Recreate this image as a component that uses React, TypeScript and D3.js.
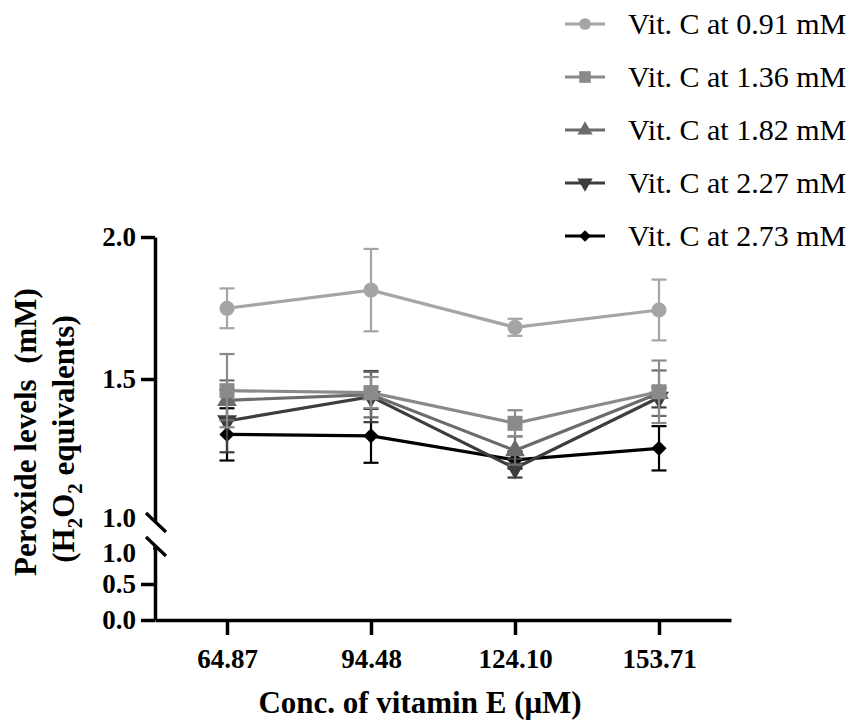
import React, { useEffect, useRef } from "react";
import * as d3 from "d3";

// x categories (vitamin E, µM)
const categories = ["64.87", "94.48", "124.10", "153.71"];

const seriesNames = [
  "Vit. C at 0.91 mM",
  "Vit. C at 1.36 mM",
  "Vit. C at 1.82 mM",
  "Vit. C at 2.27 mM",
  "Vit. C at 2.73 mM",
];

// mean peroxide levels (mM)
const vitC091 = [1.749, 1.813, 1.682, 1.743];
const vitC136 = [1.459, 1.452, 1.344, 1.455];
const vitC182 = [1.425, 1.445, 1.248, 1.45];
const vitC227 = [1.352, 1.438, 1.186, 1.435];
const vitC273 = [1.305, 1.3, 1.215, 1.256];

// error bars (+/-)
const vitC091Err = [0.07, 0.145, 0.03, 0.107];
const vitC136Err = [0.129, 0.055, 0.046, 0.11];
const vitC182Err = [0.07, 0.08, 0.05, 0.08];
const vitC227Err = [0.11, 0.09, 0.033, 0.035];
const vitC273Err = [0.092, 0.095, 0.03, 0.078];

const seriesColors = ["#a5a5a8", "#8a8a8a", "#6b6b6b", "#3d3d3d", "#000000"];

const upperTicks = [1, 1.5, 2];
const lowerTicks = [0, 0.5, 1];

const font = "'Liberation Serif', 'Times New Roman', serif";

const App = () => {
  const svgRef = useRef<SVGSVGElement>(null);

  useEffect(() => {
    const svg = d3.select(svgRef.current);
    svg.selectAll("*").remove();

    const means = [vitC091, vitC136, vitC182, vitC227, vitC273];
    const errs = [vitC091Err, vitC136Err, vitC182Err, vitC227Err, vitC273Err];

    const x = d3.scalePoint<string>().domain(categories).range([155, 731]).padding(0.5);
    const yTop = d3.scaleLinear().domain([1, 2]).range([521, 237]);
    const yBottom = d3.scaleLinear().domain([0, 1]).range([620, 548]);

    // marker shapes: circle, square, triangle, down triangle, diamond
    const markerPath = (i: number, scale: number) => {
      const types = [d3.symbolCircle, d3.symbolSquare, d3.symbolTriangle, d3.symbolTriangle, d3.symbolSquare];
      const sizes = [180, 225, 170, 170, 115];
      return d3.symbol().type(types[i]).size(sizes[i] * scale)() as string;
    };
    const markerRotate = (i: number) => (i === 3 ? 180 : i === 4 ? 45 : 0);

    const styleAxis = (g: any) => {
      g.select(".domain").attr("stroke", "#000").attr("stroke-width", 3.5);
      g.selectAll(".tick line").attr("stroke", "#000").attr("stroke-width", 3.5);
      g.selectAll(".tick text")
        .attr("fill", "#000")
        .attr("font-family", font)
        .attr("font-weight", "bold")
        .attr("font-size", 27);
    };

    // y axis, upper segment
    const gTop = svg
      .append("g")
      .attr("transform", "translate(155,0)")
      .call(
        d3.axisLeft(yTop).tickValues(upperTicks).tickSize(14).tickSizeOuter(0).tickPadding(5).tickFormat(d3.format(".1f"))
      );
    styleAxis(gTop);
    gTop.selectAll(".tick").filter((d: any) => d === 1).select("line").remove();
    gTop.selectAll(".tick").filter((d: any) => d === 1).select("text").attr("dy", "0.22em");

    // y axis, lower segment
    const gBottom = svg
      .append("g")
      .attr("transform", "translate(155,0)")
      .call(
        d3.axisLeft(yBottom).tickValues(lowerTicks).tickSize(14).tickSizeOuter(0).tickPadding(5).tickFormat(d3.format(".1f"))
      );
    styleAxis(gBottom);
    gBottom.selectAll(".tick").filter((d: any) => d === 1).select("line").remove();
    gBottom.selectAll(".tick").filter((d: any) => d === 1).select("text").attr("dy", "0.5em");
    svg
      .append("line")
      .attr("x1", 155)
      .attr("x2", 155)
      .attr("y1", yBottom(1) - 2)
      .attr("y2", yBottom(1) + 2)
      .attr("stroke", "#000")
      .attr("stroke-width", 3.5);

    // axis break marks
    [yTop(1) + 1.5, yBottom(1) - 1.5].forEach((cy) => {
      svg
        .append("line")
        .attr("x1", 146)
        .attr("y1", cy - 9.5)
        .attr("x2", 166)
        .attr("y2", cy + 9.5)
        .attr("stroke", "#000")
        .attr("stroke-width", 3.2);
    });

    // x axis
    const gx = svg
      .append("g")
      .attr("transform", `translate(0,${yBottom(0)})`)
      .call(d3.axisBottom(x).tickSize(15).tickSizeOuter(0).tickPadding(14));
    styleAxis(gx);

    // series, drawn from darkest so lighter ones sit on top
    for (let i = means.length - 1; i >= 0; i--) {
      const color = seriesColors[i];
      const pts = categories.map((c, j) => ({ c, v: means[i][j], e: errs[i][j] }));
      const g = svg.append("g");

      const line = d3
        .line<any>()
        .x((d) => x(d.c) as number)
        .y((d) => yTop(d.v));
      g.append("path")
        .attr("d", line(pts))
        .attr("fill", "none")
        .attr("stroke", color)
        .attr("stroke-width", 3.2);

      pts.forEach((d) => {
        const px = x(d.c) as number;
        const y1 = yTop(d.v + d.e);
        const y2 = yTop(d.v - d.e);
        g.append("line").attr("x1", px).attr("x2", px).attr("y1", y1).attr("y2", y2)
          .attr("stroke", color).attr("stroke-width", 2.2);
        [y1, y2].forEach((yy) => {
          g.append("line").attr("x1", px - 7.5).attr("x2", px + 7.5).attr("y1", yy).attr("y2", yy)
            .attr("stroke", color).attr("stroke-width", 2.2);
        });
        g.append("path")
          .attr("d", markerPath(i, 1))
          .attr("transform", `translate(${px},${yTop(d.v)}) rotate(${markerRotate(i)})`)
          .attr("fill", color);
      });
    }

    // legend
    seriesNames.forEach((name, i) => {
      const ly = 24 + i * 53;
      const g = svg.append("g").attr("transform", `translate(0,${ly})`);
      g.append("line").attr("x1", 565).attr("x2", 605).attr("y1", 0).attr("y2", 0)
        .attr("stroke", seriesColors[i]).attr("stroke-width", 3.2);
      g.append("path")
        .attr("d", markerPath(i, 0.6))
        .attr("transform", `translate(585,0) rotate(${markerRotate(i)})`)
        .attr("fill", seriesColors[i]);
      g.append("text")
        .attr("x", 628)
        .attr("y", 10)
        .attr("font-family", font)
        .attr("font-size", 30)
        .attr("fill", "#000")
        .text(name);
    });

    // axis titles
    svg
      .append("text")
      .attr("x", 420)
      .attr("y", 713)
      .attr("text-anchor", "middle")
      .attr("font-family", font)
      .attr("font-weight", "bold")
      .attr("font-size", 31)
      .text("Conc. of vitamin E (\u03bcM)");

    svg
      .append("text")
      .attr("transform", "translate(36,432) rotate(-90)")
      .attr("text-anchor", "middle")
      .attr("font-family", font)
      .attr("font-weight", "bold")
      .attr("font-size", 31)
      .style("white-space", "pre")
      .text("Peroxide levels  (mM)");

    const t2 = svg
      .append("text")
      .attr("transform", "translate(74,439) rotate(-90)")
      .attr("text-anchor", "middle")
      .attr("font-family", font)
      .attr("font-weight", "bold")
      .attr("font-size", 31);
    t2.append("tspan").text("(H");
    t2.append("tspan").attr("font-size", 21).attr("dy", 8).text("2");
    t2.append("tspan").attr("dy", -8).text("O");
    t2.append("tspan").attr("font-size", 21).attr("dy", 8).text("2");
    t2.append("tspan").attr("dy", -8).style("white-space", "pre").text(" equivalents)");
  }, []);

  return (
    <svg
      ref={svgRef}
      width={858}
      height={725}
      style={{ position: "absolute", left: 0, top: 0, background: "#fff" }}
    ></svg>
  );
};

export default App;
